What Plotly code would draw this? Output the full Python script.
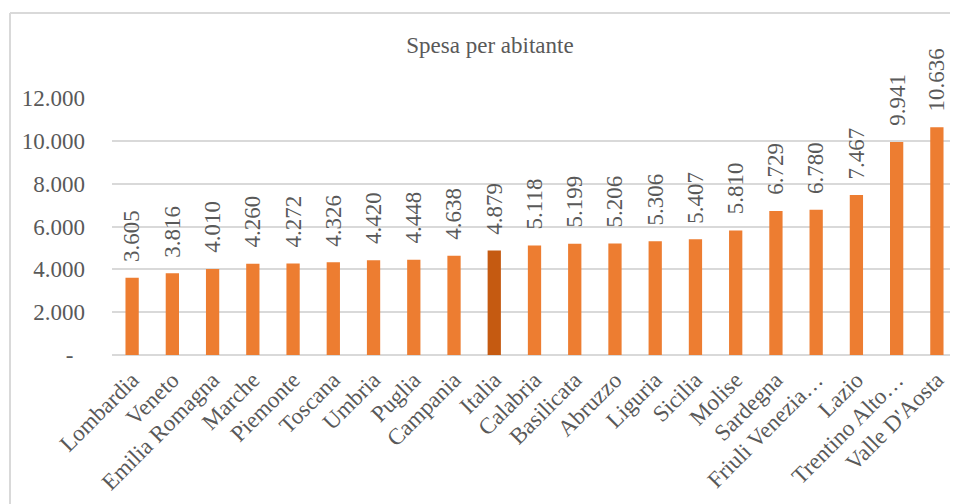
import plotly.graph_objects as go

categories = ["Lombardia", "Veneto", "Emilia Romagna", "Marche", "Piemonte", "Toscana",
              "Umbria", "Puglia", "Campania", "Italia", "Calabria", "Basilicata", "Abruzzo",
              "Liguria", "Sicilia", "Molise", "Sardegna", "Friuli Venezia…", "Lazio",
              "Trentino Alto…", "Valle D'Aosta"]
values = [3605, 3816, 4010, 4260, 4272, 4326, 4420, 4448, 4638, 4879, 5118, 5199, 5206,
          5306, 5407, 5810, 6729, 6780, 7467, 9941, 10636]
tick_vals = [0, 2000, 4000, 6000, 8000, 10000, 12000]
tick_text = ["-\u00a0\u00a0", "2.000", "4.000", "6.000", "8.000", "10.000", "12.000"]
highlight = "Italia"

ORANGE = "#ED7D31"
DARK = "#C55A11"
GRAY = "#595959"
FONT = "Liberation Serif, Times New Roman, serif"
FS = 23

colors = [DARK if c == highlight else ORANGE for c in categories]
labels = [f"{v:,}".replace(",", ".") for v in values]

fig = go.Figure(go.Bar(x=categories, y=values, marker_color=colors, width=0.33,
                       marker_line_width=0, hoverinfo="skip"))

for c, v, t in zip(categories, values, labels):
    fig.add_annotation(x=c, y=v, text=t, textangle=-90, showarrow=False,
                       yanchor="bottom", xanchor="center", yshift=14,
                       font=dict(family=FONT, size=FS, color=GRAY))

# page has an 8px body margin; figure coordinates are page coordinates minus 8
OFF = 8
W, H = 958 - OFF, 504 - OFF
ml, mr, mt, mb = 112 - OFF, 1, 98 - OFF, 149
pw, ph = W - ml - mr, H - mt - mb
def px2paper_x(px): return (px - OFF - ml) / pw
def px2paper_y(py): return 1 - (py - OFF - mt) / ph

fig.add_shape(type="line", xref="paper", yref="paper",
              x0=px2paper_x(10), x1=px2paper_x(10), y0=px2paper_y(13), y1=px2paper_y(520),
              line=dict(color="#D9D9D9", width=2))
fig.add_shape(type="line", xref="paper", yref="paper",
              x0=px2paper_x(10), x1=px2paper_x(980), y0=px2paper_y(13), y1=px2paper_y(13),
              line=dict(color="#D9D9D9", width=2))

fig.update_layout(
    width=W, height=H,
    margin=dict(l=ml, r=mr, t=mt, b=mb, autoexpand=False),
    paper_bgcolor="white", plot_bgcolor="white",
    title=dict(text="Spesa per abitante", x=(490 - OFF) / W, xanchor="center",
               y=1 - (45 - OFF) / H, yanchor="middle", xref="container", yref="container",
               font=dict(family=FONT, size=FS, color=GRAY)),
    showlegend=False,
)
fig.update_xaxes(tickangle=-45, tickfont=dict(family=FONT, size=FS, color=GRAY),
                 showgrid=False, showline=False, ticks="", ticklabelstandoff=6,
                 automargin=False)
fig.update_yaxes(range=[0, 12000], tickvals=tick_vals, ticktext=tick_text,
                 tickfont=dict(family=FONT, size=FS, color=GRAY),
                 showgrid=True, gridcolor="#D9D9D9", gridwidth=1.5,
                 zeroline=True, zerolinecolor="#D9D9D9", zerolinewidth=1.5,
                 showline=False, ticks="", ticklabelstandoff=26, automargin=False)

fig.write_html("out.html")
